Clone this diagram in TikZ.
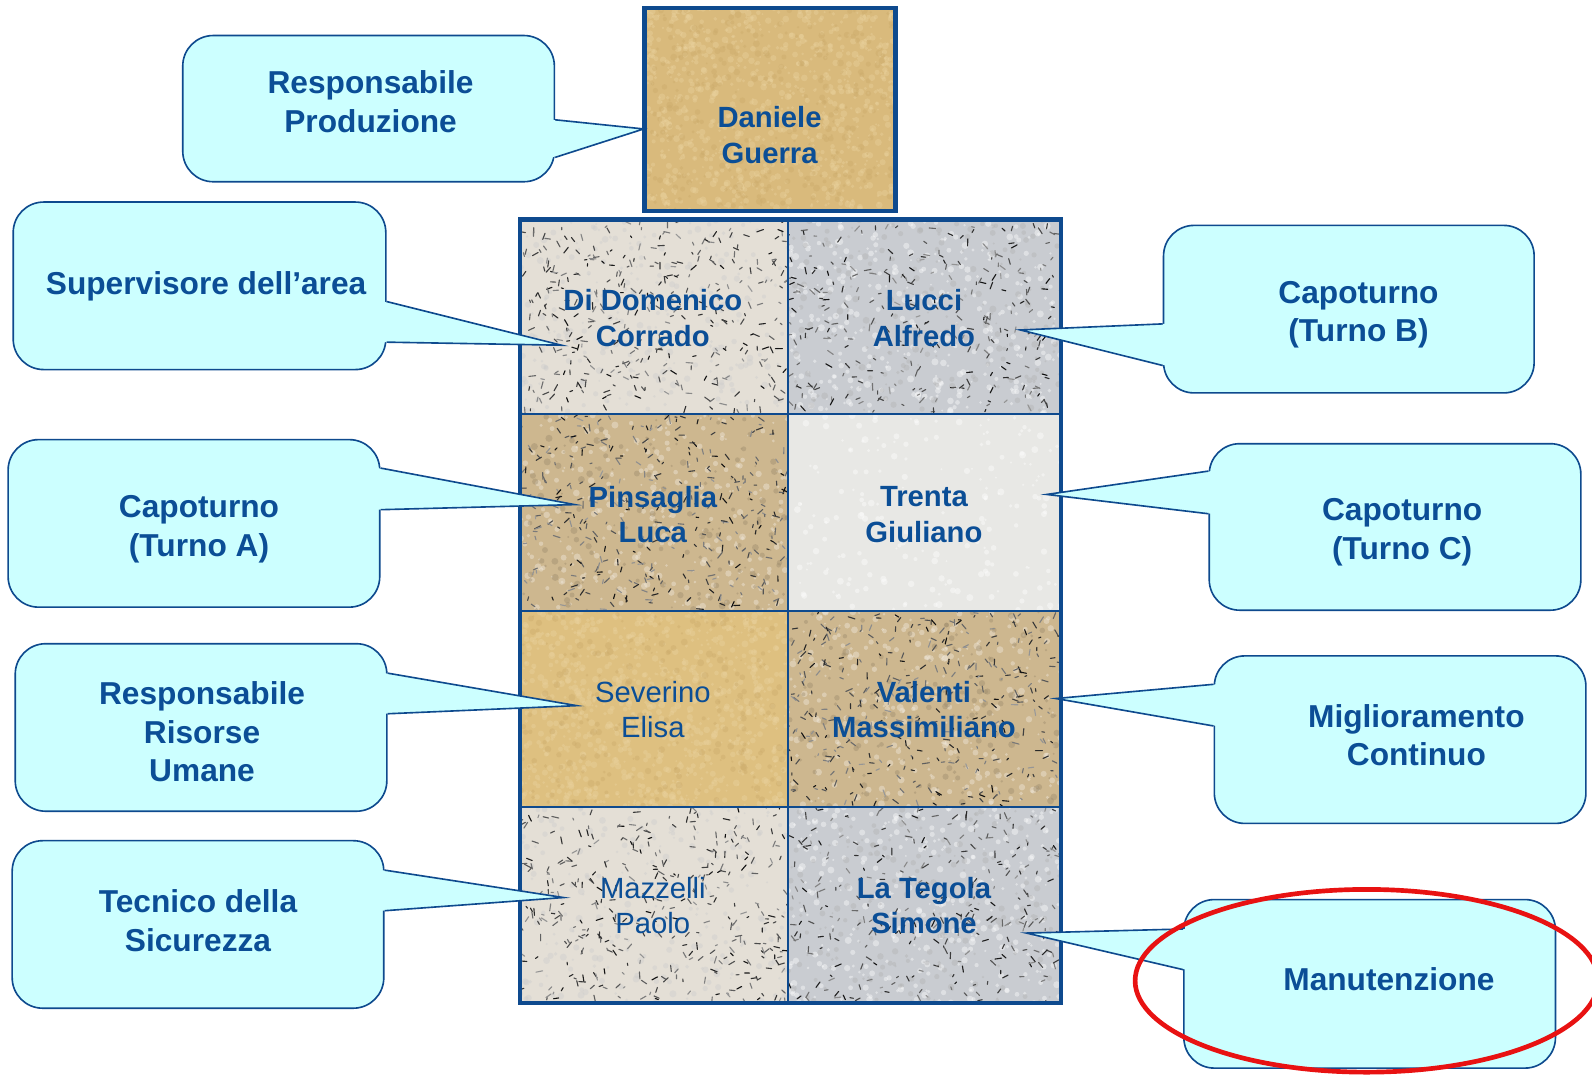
\documentclass[tikz,border=0pt]{standalone}
\usepackage{fontspec}
\setmainfont{Liberation Sans}
\usetikzlibrary{calc,fit}

\definecolor{ink}{RGB}{11,78,150}
\definecolor{frame}{RGB}{14,74,142}
\definecolor{cyanfill}{RGB}{204,255,255}
\definecolor{sand}{RGB}{217,186,124}
\definecolor{sandlt}{RGB}{234,210,158}
\definecolor{sanddk}{RGB}{203,170,106}
\definecolor{beige}{RGB}{228,223,214}
\definecolor{silver}{RGB}{201,204,209}
\definecolor{tan}{RGB}{205,183,143}
\definecolor{pale}{RGB}{232,232,229}
\definecolor{gold}{RGB}{222,192,128}
\definecolor{mark}{RGB}{232,18,18}

% dark flecks scattered over a rectangle
\newcommand\specks[5]{%
  \begin{scope}
    \clip (#1,#2) rectangle (#3,#4);
    \foreach \k in {1,...,#5}{%
      \pgfmathsetmacro\sx{#1+rnd*(#3-#1)}%
      \pgfmathsetmacro\sy{#2+rnd*(#4-#2)}%
      \pgfmathsetmacro\sa{rnd*360}%
      \pgfmathsetmacro\sl{2+rnd*5}%
      \pgfmathtruncatemacro\sg{40+rnd*55}%
      \draw[line width=0.55pt, black!\sg, line cap=round] (\sx,\sy) -- ++(\sa:\sl);
    }
  \end{scope}}
% soft round grains of a given colour
\newcommand\grains[6]{%
  \begin{scope}
    \clip (#1,#2) rectangle (#3,#4);
    \foreach \k in {1,...,#5}{%
      \pgfmathsetmacro\sx{#1+rnd*(#3-#1)}%
      \pgfmathsetmacro\sy{#2+rnd*(#4-#2)}%
      \pgfmathsetmacro\sr{1+rnd*2.5}%
      \fill[#6, opacity=0.4] (\sx,\sy) circle [radius=\sr];
    }
  \end{scope}}
% speech bubble: rounded box plus a wedge towards a tip coordinate
\newcommand\bubble[8]{%
  \node[callbox, fit={#2 #3}] (#1) {};
  \fill[cyanfill] ($(#1.#4 |- 0,#5)+(#8,0)$) -- (#7) -- ($(#1.#4 |- 0,#6)+(#8,0)$) -- cycle;
  \draw[wedgeline] (#1.#4 |- 0,#5) -- (#7) -- (#1.#4 |- 0,#6);}

\begin{document}
\begin{tikzpicture}[x=0.5pt,y=-0.5pt,
  cellname/.style={text=ink, align=center, inner sep=0pt,
    font=\bfseries\fontsize{14.4}{17.5}\selectfont},
  cellthin/.style={text=ink, align=center, inner sep=0pt,
    font=\fontsize{14.4}{17.5}\selectfont},
  callbox/.style={draw=frame, fill=cyanfill, line width=0.8pt,
    rounded corners=15pt, inner sep=0pt},
  calltext/.style={text=ink, align=center, inner sep=0pt,
    font=\bfseries\fontsize{15.6}{19}\selectfont},
  wedgeline/.style={draw=frame, line width=0.8pt, line join=miter},
  gridframe/.style={draw=frame, line width=2.2pt},
  gridline/.style={draw=frame, line width=1.2pt},
  ring/.style={draw=mark, line width=2.3pt}]

\useasboundingbox (0,0) rectangle (1568,1059);
\fill[white] (0,0) rectangle (1568,1059);
\pgfmathsetseed{2718}

% ---- top box ----
\fill[sand] (635,8) rectangle (882,208);
\grains{635}{8}{882}{208}{900}{sandlt}
\grains{635}{8}{882}{208}{300}{sanddk}

% ---- grid cells ----
\fill[beige]  (512,216) rectangle (776,408);
\fill[silver] (776,216) rectangle (1045,408);
\fill[tan]    (512,408) rectangle (776,602);
\fill[pale]   (776,408) rectangle (1045,602);
\fill[gold]   (512,602) rectangle (776,795);
\fill[tan]    (776,602) rectangle (1045,795);
\fill[beige]  (512,795) rectangle (776,988);
\fill[silver] (776,795) rectangle (1045,988);

\grains{512}{216}{776}{408}{250}{gray!40}
\specks{512}{216}{776}{408}{360}
\grains{776}{216}{1045}{408}{350}{white}
\grains{776}{216}{1045}{408}{200}{gray!60}
\specks{776}{216}{1045}{408}{280}
\grains{512}{408}{776}{602}{300}{white!75!tan}
\grains{512}{408}{776}{602}{150}{tan!75!black}
\specks{512}{408}{776}{602}{340}
\grains{776}{408}{1045}{602}{200}{white}
\grains{512}{602}{776}{795}{900}{sandlt}
\grains{512}{602}{776}{795}{250}{sanddk}
\grains{776}{602}{1045}{795}{300}{white!75!tan}
\grains{776}{602}{1045}{795}{150}{tan!75!black}
\specks{776}{602}{1045}{795}{340}
\grains{512}{795}{776}{988}{250}{gray!40}
\specks{512}{795}{776}{988}{360}
\grains{776}{795}{1045}{988}{350}{white}
\grains{776}{795}{1045}{988}{200}{gray!60}
\specks{776}{795}{1045}{988}{280}

% ---- frames ----
\draw[gridline] (776,216) -- (776,988);
\draw[gridline] (512,408) -- (1045,408);
\draw[gridline] (512,602) -- (1045,602);
\draw[gridline] (512,795) -- (1045,795);
\draw[gridframe] (512,216) rectangle (1045,988);
\draw[gridframe] (635,8) rectangle (882,208);

% ---- names ----
\node[cellname] (head) at (758,133) {Daniele\\Guerra};
\node[cellname] (c11) at (643,313) {Di Domenico\\Corrado};
\node[cellname] (c12) at (910,313) {Lucci\\Alfredo};
\node[cellname] (c21) at (643,507) {Pinsaglia\\Luca};
\node[cellname] (c22) at (910,507) {Trenta\\Giuliano};
\node[cellthin] (c31) at (643,699) {Severino\\Elisa};
\node[cellname] (c32) at (910,699) {Valenti\\Massimiliano};
\node[cellthin] (c41) at (643,892) {Mazzelli\\Paolo};
\node[cellname] (c42) at (910,892) {La Tegola\\Simone};

% ---- wedge tips ----
\coordinate (pHead) at (634,127);
\coordinate (p11) at (553,340);
\coordinate (p12) at (1005,325);
\coordinate (p21) at (566,497);
\coordinate (p22) at (1031,487);
\coordinate (p31) at (568,695);
\coordinate (p32) at (1040,688);
\coordinate (p41) at (555,884);
\coordinate (p42) at (1011,919);

% ---- role bubbles ----
\bubble{bProd}{(180,35)}{(546,179)}{east}{118}{155}{pHead}{-3}
\node[calltext] (rProd) at (365,100) {Responsabile\\Produzione};

\bubble{bSup}{(13,199)}{(380,364)}{east}{297}{337}{p11}{-3}
\node[calltext] (rSup) at (203,282) {Supervisore dell’area};

\bubble{bTB}{(1146,222)}{(1511,387)}{west}{319}{360}{p12}{3}
\node[calltext] (rTB) at (1338,310) {Capoturno\\(Turno B)};

\bubble{bTA}{(8,433)}{(374,598)}{east}{461}{502}{p21}{-3}
\node[calltext] (rTA) at (196,521) {Capoturno\\(Turno A)};

\bubble{bTC}{(1191,437)}{(1557,601)}{west}{464}{506}{p22}{3}
\node[calltext] (rTC) at (1381,524) {Capoturno\\(Turno C)};

\bubble{bRU}{(15,634)}{(381,799)}{east}{663}{703}{p31}{-3}
\node[calltext] (rRU) at (199,721) {Responsabile\\Risorse\\Umane};

\bubble{bMC}{(1196,646)}{(1562,811)}{west}{674}{715}{p32}{3}
\node[calltext] (rMC) at (1395,724) {Miglioramento\\Continuo};

\bubble{bTS}{(12,828)}{(378,993)}{east}{857}{897}{p41}{-3}
\node[calltext] (rTS) at (195,907) {Tecnico della\\Sicurezza};

\bubble{bMN}{(1166,886)}{(1532,1052)}{west}{915}{955}{p42}{3}
\node[calltext] (rMN) at (1368,964) {Manutenzione};

% ---- highlight ring ----
\begin{scope}
  \clip (0,0) rectangle (1568,1059);
  \draw[ring] (1346,966) ellipse [x radius=228, y radius=90];
\end{scope}
\end{tikzpicture}
\end{document}
